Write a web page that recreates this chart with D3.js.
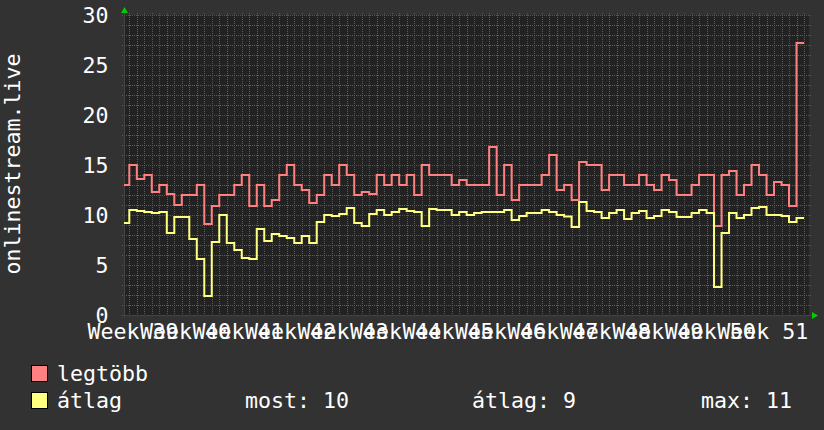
<!DOCTYPE html>
<html>
<head>
<meta charset="utf-8">
<style>
body { margin: 0; background: #323232; }
svg { display: block; }
text { font-family: "DejaVu Sans Mono", monospace; font-size: 21.6px; fill: #ffffff; }
.grid line { stroke-dasharray: 1,1; shape-rendering: crispEdges; }
.minor { stroke: #5c5c5c; }
.major { stroke: #8c3a3a; }
</style>
<script src="https://cdnjs.cloudflare.com/ajax/libs/d3/7.8.5/d3.min.js"></script>
</head>
<body>
<svg id="chart" width="824" height="430"></svg>
<script>
// daily values, first day 2023-09-27
var firstDay = "2023-09-27";
var legtobb = [13, 15, 13.6, 14, 12.3, 13, 12.1, 11, 12, 12, 13, 9.1, 10.9, 12, 12, 13, 14, 10.9, 13, 10.9,
  11.5, 14, 15, 13, 12.5, 11.2, 12, 14, 13, 15, 14, 12, 12.3, 12.1, 14, 13, 14, 13, 14, 12,
  15, 14, 14, 14, 13, 13.5, 13, 13, 13, 16.8, 12, 15, 11.5, 13, 13, 13, 14, 16, 12.5, 13,
  11.5, 15.3, 15, 15, 12.5, 14, 14, 13, 13, 14, 13, 12.5, 14, 13.5, 12, 12, 13, 14, 14, 8.9,
  14, 14.4, 12, 13, 15, 14, 12, 13.3, 13, 10.9, 27.2];
var atlag = [9.2, 10.5, 10.4, 10.3, 10.2, 10.3, 8.2, 9.8, 9.8, 7.6, 5.6, 1.9, 7.3, 10, 7.2, 6.5, 5.7, 5.6, 8.6, 7.4,
  8.1, 7.9, 7.7, 7.2, 7.9, 7.2, 9.3, 10, 9.9, 10.1, 10.7, 9.2, 8.9, 10.1, 10.5, 10, 10.3, 10.6, 10.4, 10.3,
  8.9, 10.6, 10.5, 10.5, 10, 10.3, 10, 10.2, 10.3, 10.3, 10.3, 10.5, 9.5, 9.9, 10.2, 10.2, 10.5, 10.3, 10, 9.85,
  8.8, 11.3, 10.4, 10.3, 9.7, 10.2, 10.5, 9.6, 10.2, 10.4, 9.7, 9.9, 10.5, 10.3, 9.8, 9.8, 10.2, 10.5, 10.2, 2.8,
  8.2, 10.2, 9.7, 10, 10.7, 10.8, 10, 10, 9.9, 9.3, 9.7];
var weekLabels = ["Week 39", "Week 40", "Week 41", "Week 42", "Week 43", "Week 44", "Week 45",
  "Week 46", "Week 47", "Week 48", "Week 49", "Week 50", "Week 51"];
var firstWeek = "2023-09-25";
var yTicks = [0, 5, 10, 15, 20, 25, 30];
var legendStats = ["most: 10", "átlag: 9", "max: 11"];
var tStart = new Date("2023-09-27T07:00Z"), tEnd = new Date("2023-12-27T16:00Z");

var svg = d3.select("#chart");
var L = 124, R = 809, T = 15, B = 315;

var x = d3.scaleUtc().domain([tStart, tEnd]).range([L, R]);
var y = d3.scaleLinear().domain([0, 30]).range([B, T]);

svg.append("rect").attr("x", L).attr("y", T).attr("width", R - L).attr("height", B - T).attr("fill", "#222222");

var g = svg.append("g").attr("class", "grid");
// horizontal grid
d3.range(0, 31).forEach(function(v) {
  g.append("line").attr("class", v % 5 == 0 ? "major" : "minor")
    .attr("x1", L - 2).attr("x2", R + 2)
    .attr("y1", Math.round(y(v)) + 0.5).attr("y2", Math.round(y(v)) + 0.5);
});
// vertical grid: days and weeks
x.ticks(d3.utcDay).forEach(function(d) {
  var isWeek = d.getUTCDay() == 1;
  g.append("line").attr("class", isWeek ? "major" : "minor")
    .attr("x1", Math.round(x(d)) + 0.5).attr("x2", Math.round(x(d)) + 0.5)
    .attr("y1", T - 2).attr("y2", B + 2);
});

// axes
svg.append("line").attr("x1", L - 3).attr("x2", R + 3).attr("y1", B + 0.5).attr("y2", B + 0.5)
  .attr("stroke", "#444").attr("shape-rendering", "crispEdges");
svg.append("line").attr("x1", L + 0.5).attr("x2", L + 0.5).attr("y1", T - 3).attr("y2", B + 3)
  .attr("stroke", "#444").attr("shape-rendering", "crispEdges");
svg.append("path").attr("d", "M" + (L - 3) + "," + (T - 2) + "L" + (L + 0.5) + "," + (T - 8) + "L" + (L + 4) + "," + (T - 2) + "Z").attr("fill", "#00cc00");
svg.append("path").attr("d", "M" + (R + 3) + "," + (B - 3) + "L" + (R + 9) + "," + (B + 0.5) + "L" + (R + 3) + "," + (B + 4) + "Z").attr("fill", "#00cc00");

// y labels
yTicks.forEach(function(v) {
  svg.append("text").attr("x", 108.5).attr("y", y(v) + 8).attr("text-anchor", "end").text(v);
});
// x labels centred in each week
var w0 = new Date(firstWeek + "T00:00Z");
weekLabels.forEach(function(lab, i) {
  var mid = d3.utcHour.offset(d3.utcDay.offset(w0, i * 7), 84);
  svg.append("text").attr("x", x(mid)).attr("y", 338.5).attr("text-anchor", "middle").text(lab);
});

svg.append("text").attr("transform", "translate(20,164) rotate(-90)").attr("text-anchor", "middle").text("onlinestream.live");

// series
var d0 = new Date(firstDay + "T00:00Z");
function pts(vals) {
  var p = vals.map(function(v, i) { return [d3.utcDay.offset(d0, i), v]; });
  p.push([d3.utcDay.offset(d0, vals.length), vals[vals.length - 1]]);
  return p;
}
svg.append("clipPath").attr("id", "clip").append("rect").attr("x", L).attr("y", T - 2).attr("width", R - L).attr("height", B - T + 4);
var line = d3.line().x(function(d) { return x(d[0]); }).y(function(d) { return y(d[1]); }).curve(d3.curveStepAfter);
svg.append("path").datum(pts(legtobb)).attr("d", line).attr("clip-path", "url(#clip)")
  .attr("fill", "none").attr("stroke", "#ff8080").attr("stroke-width", 2);
svg.append("path").datum(pts(atlag)).attr("d", line).attr("clip-path", "url(#clip)")
  .attr("fill", "none").attr("stroke", "#ffff80").attr("stroke-width", 2);

// legend
var legend = [["legtöbb", "#ff8080", 381], ["átlag", "#ffff80", 408]];
legend.forEach(function(l) {
  svg.append("rect").attr("x", 31.5).attr("y", l[2] - 15.5).attr("width", 16).attr("height", 16)
    .attr("fill", l[1]).attr("stroke", "#000");
  svg.append("text").attr("x", 57).attr("y", l[2]).text(l[0]);
});
[246, 473, 702].forEach(function(px, i) {
  svg.append("text").attr("x", px - 1).attr("y", 408).text(legendStats[i]);
});
</script>
</body>
</html>
